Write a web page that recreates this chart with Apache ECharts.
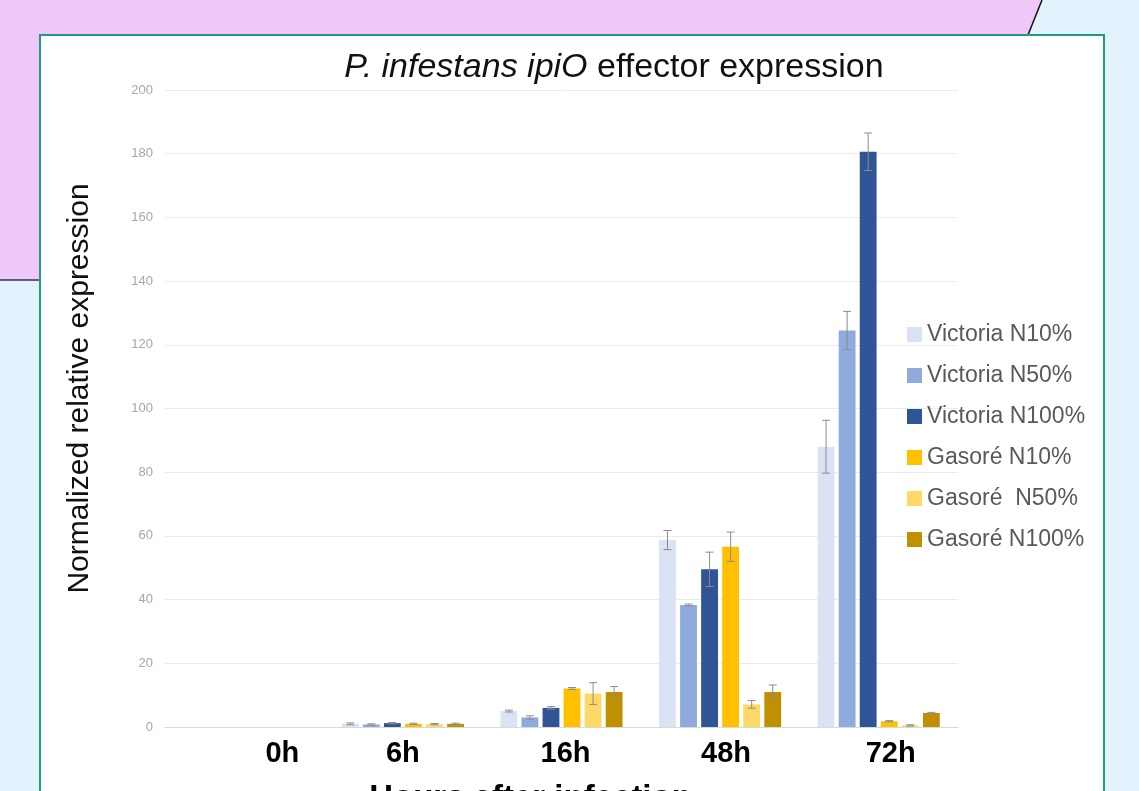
<!DOCTYPE html>
<html><head><meta charset="utf-8">
<script src="https://cdn.jsdelivr.net/npm/echarts@6/dist/echarts.min.js"></script>
<style>html,body{margin:0;padding:0;background:#e1f2fd;}#c{width:1139px;height:791px;}</style>
</head><body><div id="c"></div>
<script>
// ---- data ----
const categories = ['0h', '6h', '16h', '48h', '72h'];
const seriesNames = ['Victoria N10%', 'Victoria N50%', 'Victoria N100%', 'Gasoré N10%', 'Gasoré  N50%', 'Gasoré N100%'];
const victoriaN10  = [0, 1.0, 5.0, 58.7, 88.0];
const victoriaN50  = [0, 0.8, 3.0, 38.3, 124.5];
const victoriaN100 = [0, 1.2, 6.0, 49.5, 180.6];
const gasoreN10    = [0, 1.0, 12.1, 56.6, 1.8];
const gasoreN50    = [0, 0.9, 10.5, 7.1, 0.5];
const gasoreN100   = [0, 1.0, 11.0, 11.0, 4.4];
const victoriaN10Err  = [0, 0.3, 0.3, 3.0, 8.3];
const victoriaN50Err  = [0, 0.2, 0.5, 0.3, 6.0];
const victoriaN100Err = [0, 0.2, 0.4, 5.4, 5.9];
const gasoreN10Err    = [0, 0.2, 0.3, 4.6, 0.2];
const gasoreN50Err    = [0, 0.2, 3.4, 1.2, 0.2];
const gasoreN100Err   = [0, 0.2, 1.7, 2.2, 0.2];
const yMin = 0, yMax = 200, yStep = 20;

// ---- styling ----
const values = [victoriaN10, victoriaN50, victoriaN100, gasoreN10, gasoreN50, gasoreN100];
const errors = [victoriaN10Err, victoriaN50Err, victoriaN100Err, gasoreN10Err, gasoreN50Err, gasoreN100Err];
const colors = ['#dae3f3', '#8faadc', '#2f5597', '#ffc000', '#ffd966', '#bf9000'];
const labelShift = [38, 0, 4, 6, 12];
const CAT_GAP = 0.23, BAR_GAP = 0.25;
const FONT = "'Liberation Sans', Arial, sans-serif";

const barSeries = seriesNames.map((name, i) => ({
  name, type: 'bar', data: values[i],
  itemStyle: { color: colors[i] },
  barGap: (BAR_GAP * 100) + '%', barCategoryGap: (CAT_GAP * 100) + '%',
  z: 2
}));

const errData = [];
errors.forEach((arr, s) => arr.forEach((e, c) => errData.push([c, s, values[s][c], e])));

const errSeries = {
  type: 'custom', name: 'err', z: 5, silent: true,
  data: errData,
  encode: { x: 0, y: 2 },
  renderItem(params, api) {
    const cat = api.value(0), s = api.value(1), v = api.value(2), e = api.value(3);
    if (!e) return null;
    const n = seriesNames.length;
    const band = api.size([1, 0])[0];
    const inner = band * (1 - CAT_GAP);
    const w = inner / (n + (n - 1) * BAR_GAP);
    const cx = api.coord([cat, 0])[0] - inner / 2 + s * w * (1 + BAR_GAP) + w / 2;
    const yT = api.coord([cat, v + e])[1];
    const yB = api.coord([cat, Math.max(v - e, 0)])[1];
    const cap = 4;
    const st = { stroke: '#8c8c8c', lineWidth: 1 };
    return { type: 'group', children: [
      { type: 'line', shape: { x1: cx, y1: yT, x2: cx, y2: yB }, style: st },
      { type: 'line', shape: { x1: cx - cap, y1: yT, x2: cx + cap, y2: yT }, style: st },
      { type: 'line', shape: { x1: cx - cap, y1: yB, x2: cx + cap, y2: yB }, style: st }
    ]};
  }
};

const chart = echarts.init(document.getElementById('c'), null, { renderer: 'canvas' });
chart.setOption({
  backgroundColor: '#e1f2fd',
  animation: false,
  textStyle: { fontFamily: FONT },
  graphic: [
    { type: 'polygon', z: -20, shape: { points: [[0, 0], [1042, 0], [930, 280], [0, 280]] }, style: { fill: '#eec8f9' } },
    { type: 'line', z: -19, shape: { x1: 0, y1: 280, x2: 60, y2: 280 }, style: { stroke: '#3a2f44', lineWidth: 1.5 } },
    { type: 'line', z: -19, shape: { x1: 1042, y1: 0, x2: 1024, y2: 45 }, style: { stroke: '#111', lineWidth: 1.5 } },
    { type: 'rect', z: -18, shape: { x: 40, y: 35, width: 1064, height: 800 }, style: { fill: '#ffffff', stroke: '#1f9c80', lineWidth: 2 } }
  ],
  title: {
    text: '{it|P. infestans ipiO} effector expression',
    left: 609, top: 46, textAlign: 'center',
    textStyle: {
      fontFamily: FONT, fontSize: 34, fontWeight: 'normal', color: '#111', lineHeight: 34,
      rich: { it: { fontFamily: FONT, fontSize: 34, fontStyle: 'italic', color: '#111', lineHeight: 34 } }
    }
  },
  legend: {
    orient: 'vertical', left: 902, top: 318,
    itemWidth: 15, itemHeight: 15, itemGap: 18, icon: 'rect',
    data: seriesNames,
    textStyle: { fontFamily: FONT, fontSize: 23, color: '#595959', lineHeight: 23 }
  },
  grid: { left: 165, right: 181, top: 90, bottom: 64, containLabel: false, outerBoundsMode: 'none' },
  xAxis: {
    type: 'category',
    data: categories.map((c, i) => ({ value: c, textStyle: { padding: [0, 0, 0, 2 * labelShift[i]] } })),
    axisLine: { show: true, lineStyle: { color: '#d9d9d9', width: 1 } },
    axisTick: { show: false },
    axisLabel: { fontFamily: FONT, fontSize: 29, fontWeight: 'bold', color: '#000', margin: 12, lineHeight: 29 },
    name: 'Hours after infection', nameLocation: 'middle', nameGap: 55,
    nameTextStyle: { fontFamily: FONT, fontSize: 33, fontWeight: 'bold', color: '#000', padding: [0, 62, 0, 0], lineHeight: 33 }
  },
  yAxis: {
    type: 'value', min: yMin, max: yMax, interval: yStep,
    axisLine: { show: false }, axisTick: { show: false },
    axisLabel: { fontFamily: FONT, fontSize: 13, color: '#a6a6a6', margin: 12 },
    splitLine: { lineStyle: { color: '#ebebeb', width: 1 } },
    name: 'Normalized relative expression', nameLocation: 'middle', nameGap: 70,
    nameTextStyle: { fontFamily: FONT, fontSize: 30, color: '#111', padding: [0, 0, 0, 40] }
  },
  series: [...barSeries, errSeries]
});
</script></body></html>
